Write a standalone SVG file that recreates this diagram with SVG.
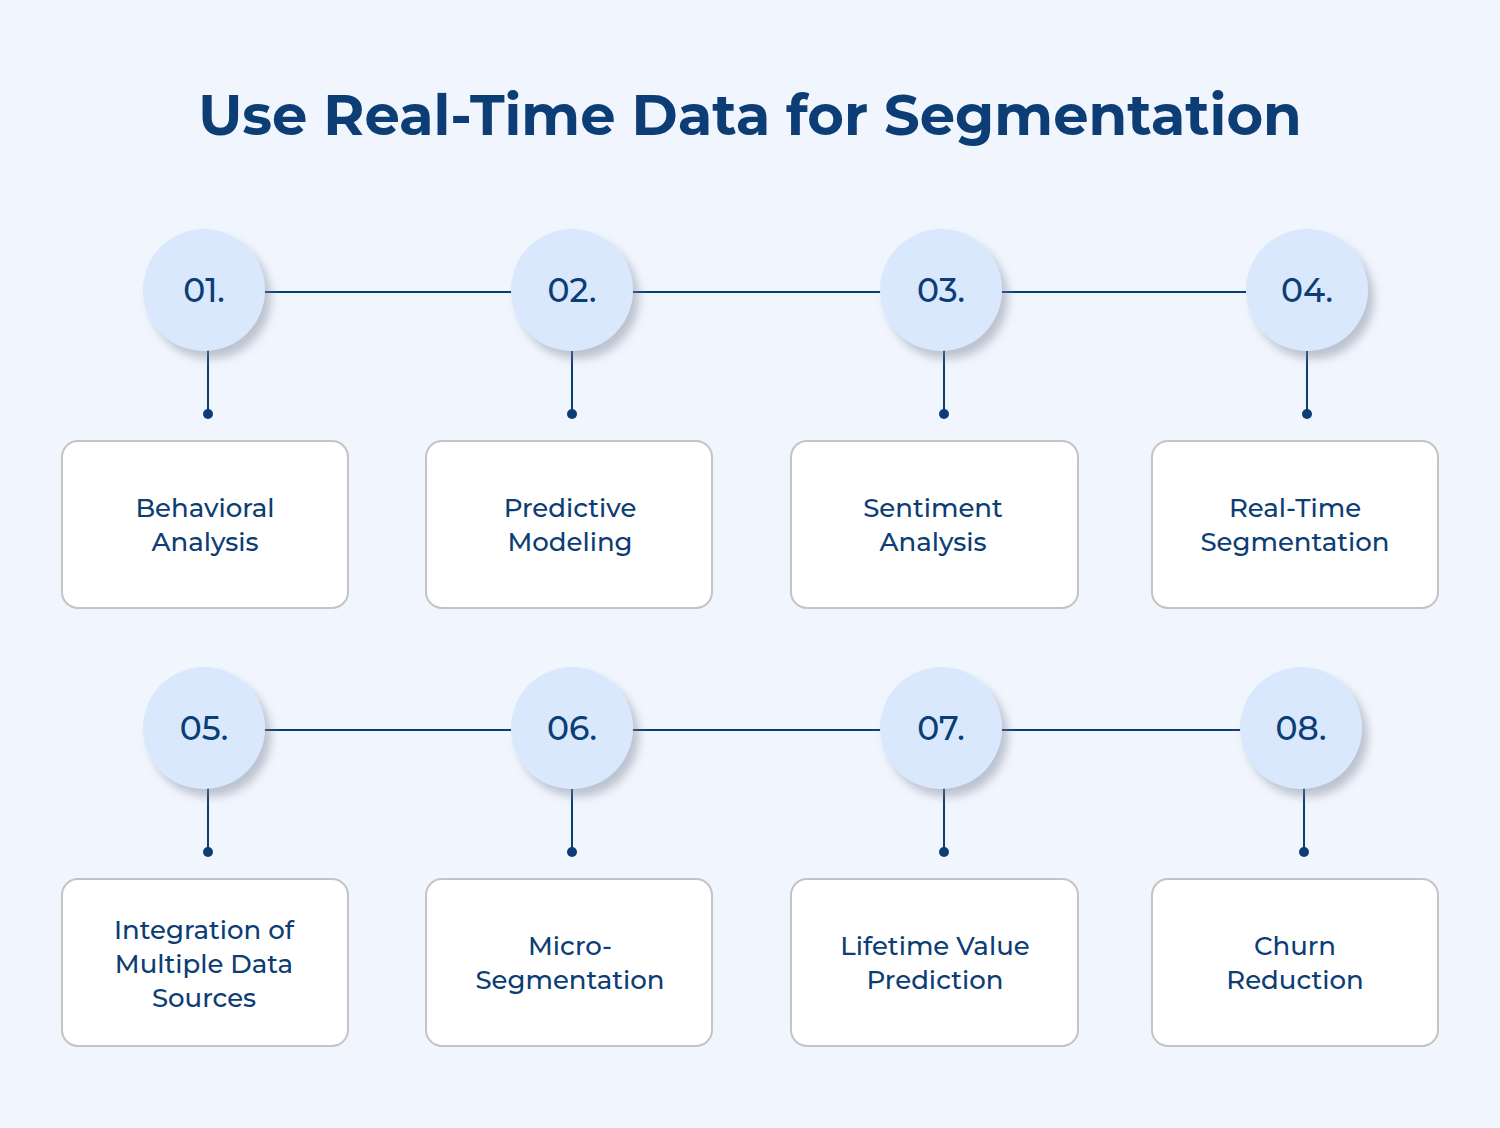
<svg xmlns="http://www.w3.org/2000/svg" width="1500" height="1128" viewBox="0 0 1500 1128">
<defs>
<filter id="sh" x="-30%" y="-30%" width="170%" height="170%"><feDropShadow dx="6" dy="8" stdDeviation="5" flood-color="#7a8394" flood-opacity="0.45"/></filter>
<style>
.t{font-family:Montserrat,"Noto Sans","Liberation Sans",sans-serif;fill:#0c3d74}
.title{font-size:56px;font-weight:700}
.num{font-size:33px;font-weight:500}
.lbl{font-size:26px;font-weight:500}
.c{fill:#d9e8fd;filter:url(#sh)}
.box{fill:#fff;stroke:#c4c4c4;stroke-width:2}
.ln{stroke:#0c3d74;stroke-width:2;fill:none}
.dot{fill:#0c3d74}
</style>
</defs>
<rect width="1500" height="1128" fill="#f1f6fe"/>
<text class="t title" x="750" y="135" text-anchor="middle">Use Real-Time Data for Segmentation</text>
<g id="connectors">
<path class="ln" d="M204 292H1307M208 292V414M572 292V414M944 292V414M1307 292V414"/>
<path class="ln" d="M204 730H1301M208 730V852M572 730V852M944 730V852M1304 730V852"/>
<circle class="dot" cx="208" cy="414" r="5"/><circle class="dot" cx="572" cy="414" r="5"/><circle class="dot" cx="944" cy="414" r="5"/><circle class="dot" cx="1307" cy="414" r="5"/>
<circle class="dot" cx="208" cy="852" r="5"/><circle class="dot" cx="572" cy="852" r="5"/><circle class="dot" cx="944" cy="852" r="5"/><circle class="dot" cx="1304" cy="852" r="5"/>
</g>
<g id="n1"><circle class="c" cx="204" cy="290" r="61"/><text class="t num" x="204" y="302" text-anchor="middle">01.</text>
<rect class="box" x="62" y="441" width="286" height="167" rx="16"/><text class="t lbl" x="205" text-anchor="middle"><tspan x="205" y="517">Behavioral</tspan><tspan x="205" y="551">Analysis</tspan></text></g>
<g id="n2"><circle class="c" cx="572" cy="290" r="61"/><text class="t num" x="572" y="302" text-anchor="middle">02.</text>
<rect class="box" x="426" y="441" width="286" height="167" rx="16"/><text class="t lbl" text-anchor="middle"><tspan x="570" y="517">Predictive</tspan><tspan x="570" y="551">Modeling</tspan></text></g>
<g id="n3"><circle class="c" cx="941" cy="290" r="61"/><text class="t num" x="941" y="302" text-anchor="middle">03.</text>
<rect class="box" x="791" y="441" width="287" height="167" rx="16"/><text class="t lbl" text-anchor="middle"><tspan x="933" y="517">Sentiment</tspan><tspan x="933" y="551">Analysis</tspan></text></g>
<g id="n4"><circle class="c" cx="1307" cy="290" r="61"/><text class="t num" x="1307" y="302" text-anchor="middle">04.</text>
<rect class="box" x="1152" y="441" width="286" height="167" rx="16"/><text class="t lbl" text-anchor="middle"><tspan x="1295" y="517">Real-Time</tspan><tspan x="1295" y="551">Segmentation</tspan></text></g>
<g id="n5"><circle class="c" cx="204" cy="728" r="61"/><text class="t num" x="204" y="740" text-anchor="middle">05.</text>
<rect class="box" x="62" y="879" width="286" height="167" rx="16"/><text class="t lbl" text-anchor="middle"><tspan x="204" y="939">Integration of</tspan><tspan x="204" y="973">Multiple Data</tspan><tspan x="204" y="1007">Sources</tspan></text></g>
<g id="n6"><circle class="c" cx="572" cy="728" r="61"/><text class="t num" x="572" y="740" text-anchor="middle">06.</text>
<rect class="box" x="426" y="879" width="286" height="167" rx="16"/><text class="t lbl" text-anchor="middle"><tspan x="570" y="955">Micro-</tspan><tspan x="570" y="989">Segmentation</tspan></text></g>
<g id="n7"><circle class="c" cx="941" cy="728" r="61"/><text class="t num" x="941" y="740" text-anchor="middle">07.</text>
<rect class="box" x="791" y="879" width="287" height="167" rx="16"/><text class="t lbl" text-anchor="middle"><tspan x="935" y="955">Lifetime Value</tspan><tspan x="935" y="989">Prediction</tspan></text></g>
<g id="n8"><circle class="c" cx="1301" cy="728" r="61"/><text class="t num" x="1301" y="740" text-anchor="middle">08.</text>
<rect class="box" x="1152" y="879" width="286" height="167" rx="16"/><text class="t lbl" text-anchor="middle"><tspan x="1295" y="955">Churn</tspan><tspan x="1295" y="989">Reduction</tspan></text></g>
</svg>
